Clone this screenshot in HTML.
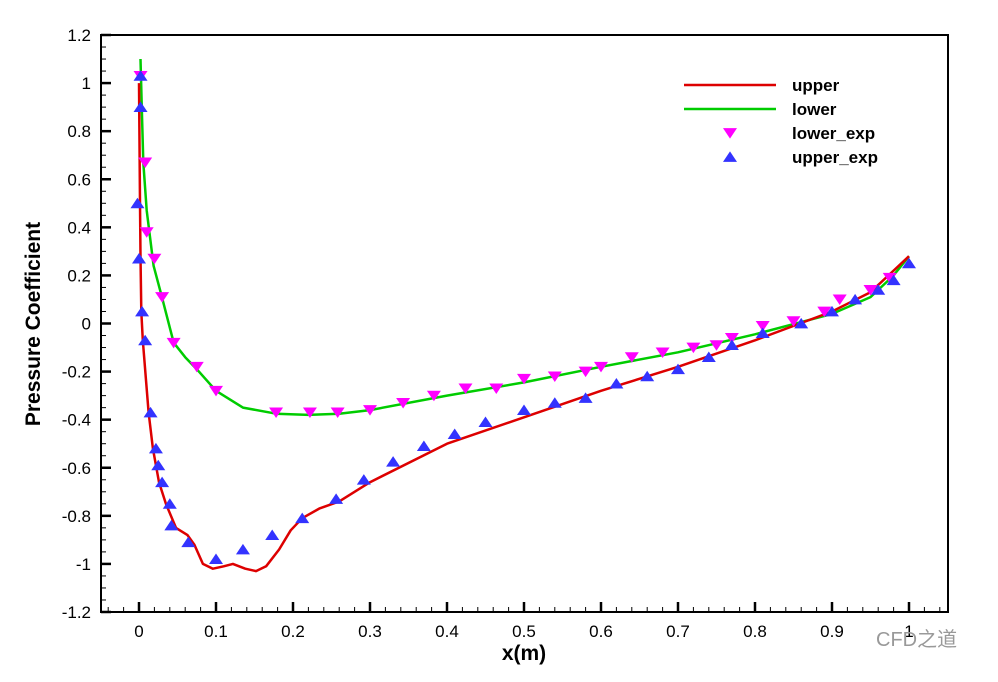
<!DOCTYPE html>
<html><head><meta charset="utf-8"><style>
body{margin:0;background:#fff;}
svg{display:block;font-family:"Liberation Sans",Arial,sans-serif;}
</style></head><body>
<svg id="chart" width="998" height="682"></svg>
<script>
const upperX=[0,0.0013,0.002,0.003,0.005,0.0125,0.018,0.026,0.035,0.048,0.063,0.072,0.083,0.096,0.11,0.122,0.138,0.152,0.165,0.182,0.197,0.212,0.234,0.26,0.3,0.4,0.5,0.6,0.7,0.8,0.9,0.95,1.0];
const upperY=[1.0,0.5,0.28,0.05,-0.07,-0.37,-0.52,-0.66,-0.75,-0.85,-0.88,-0.92,-1.0,-1.02,-1.01,-1.0,-1.02,-1.03,-1.01,-0.94,-0.86,-0.81,-0.77,-0.74,-0.66,-0.5,-0.39,-0.28,-0.18,-0.07,0.05,0.13,0.28];
const lowerX=[0.002,0.004,0.0056,0.01,0.019,0.029,0.045,0.06,0.075,0.1,0.135,0.178,0.22,0.26,0.3,0.4,0.5,0.6,0.7,0.8,0.9,0.95,0.98,1.0];
const lowerY=[1.1,0.85,0.67,0.47,0.24,0.12,-0.08,-0.14,-0.19,-0.28,-0.35,-0.375,-0.38,-0.375,-0.36,-0.3,-0.245,-0.18,-0.12,-0.045,0.04,0.11,0.2,0.28];
const lowerExpX=[0.002,0.008,0.01,0.02,0.03,0.045,0.075,0.1,0.178,0.222,0.258,0.3,0.343,0.383,0.424,0.464,0.5,0.54,0.58,0.6,0.64,0.68,0.72,0.75,0.77,0.81,0.85,0.89,0.91,0.95,0.975];
const lowerExpY=[1.03,0.67,0.38,0.27,0.11,-0.08,-0.18,-0.28,-0.37,-0.37,-0.37,-0.36,-0.33,-0.3,-0.27,-0.27,-0.23,-0.22,-0.2,-0.18,-0.14,-0.12,-0.1,-0.09,-0.06,-0.01,0.01,0.05,0.1,0.14,0.19];
const upperExpX=[0.002,0.002,-0.002,0.0,0.004,0.008,0.015,0.022,0.025,0.03,0.04,0.042,0.064,0.1,0.135,0.173,0.212,0.256,0.292,0.33,0.37,0.41,0.45,0.5,0.54,0.58,0.62,0.66,0.7,0.74,0.77,0.81,0.86,0.9,0.93,0.96,0.98,1.0];
const upperExpY=[1.03,0.9,0.5,0.27,0.05,-0.07,-0.37,-0.52,-0.59,-0.66,-0.75,-0.84,-0.91,-0.98,-0.94,-0.88,-0.81,-0.73,-0.65,-0.575,-0.51,-0.46,-0.41,-0.36,-0.33,-0.31,-0.25,-0.22,-0.19,-0.14,-0.09,-0.04,0.0,0.05,0.1,0.14,0.18,0.25];
const xTicks=["0","0.1","0.2","0.3","0.4","0.5","0.6","0.7","0.8","0.9","1"];
const yTicks=["1.2","1","0.8","0.6","0.4","0.2","0","-0.2","-0.4","-0.6","-0.8","-1","-1.2"];

const L=101,R=948,T=35,B=612;
const sx=v=>139+v*770;
const sy=v=>T+(1.2-v)*(B-T)/2.4;
const svg=document.getElementById('chart');
const NS='http://www.w3.org/2000/svg';
function mk(tag,attrs,parent){const e=document.createElementNS(NS,tag);for(const k in attrs)e.setAttribute(k,attrs[k]);(parent||svg).appendChild(e);return e;}

const frame=mk('rect',{x:L,y:T,width:R-L,height:B-T,fill:'none',stroke:'#000','stroke-width':2});



for(let i=-2;i<=54;i++){const v=i*0.02;const x=sx(v);if(x<L||x>R)continue;const major=i%5===0;
 const t=mk('line',{x1:x,x2:x,y1:B,y2:B-(major?10:5),stroke:'#000','stroke-width':major?2.5:1});
 
 }
xTicks.forEach((s,i)=>{const t=mk('text',{x:sx(i*0.1),y:B+25,'text-anchor':'middle','font-size':17});t.textContent=s;
 
 });
for(let i=-24;i<=24;i++){const v=i*0.05;const y=sy(v);const major=i%4===0;
 const t=mk('line',{x1:L,x2:L+(major?10:5),y1:y,y2:y,stroke:'#000','stroke-width':major?2.5:1});
 
 }
yTicks.forEach((s,i)=>{const t=mk('text',{x:L-10,y:sy(1.2-i*0.2)+6,'text-anchor':'end','font-size':17});t.textContent=s;
 
 });

const xt=mk('text',{x:524,y:660,'text-anchor':'middle','font-size':21,'font-weight':'bold'});xt.textContent='x(m)';


const yt=mk('text',{x:40,y:324,'text-anchor':'middle','font-size':21,'font-weight':'bold',transform:'rotate(-90 40 324)'});yt.textContent='Pressure Coefficient';



function line(xs,ys,color,name){const d=xs.map((x,i)=>(i?'L':'M')+sx(x).toFixed(1)+' '+sy(ys[i]).toFixed(1)).join(' ');
 const p=mk('path',{d:d,fill:'none',stroke:color,'stroke-width':2.5,'stroke-linejoin':'round'});
 
 }
line(lowerX,lowerY,'#00cc00','lower-line');
line(upperX,upperY,'#dd0000','upper-line');
function tri(x,y,down){const s=7;return down?`M${x-s} ${y-s*0.7}L${x+s} ${y-s*0.7}L${x} ${y+s*0.8}Z`:`M${x-s} ${y+s*0.7}L${x+s} ${y+s*0.7}L${x} ${y-s*0.8}Z`;}
lowerExpX.forEach((v,i)=>{const p=mk('path',{d:tri(sx(v),sy(lowerExpY[i]),true),fill:'#ff00ff'});
 
 });
upperExpX.forEach((v,i)=>{const p=mk('path',{d:tri(sx(v),sy(upperExpY[i]),false),fill:'#3333ff'});
 
 });

const lg=mk('g',{});


[['upper','#dd0000','line'],['lower','#00cc00','line'],['lower_exp','#ff00ff','down'],['upper_exp','#3333ff','up']].forEach((e,i)=>{
 const y=85+i*24;
 if(e[2]==='line'){mk('line',{x1:684,x2:776,y1:y,y2:y,stroke:e[1],'stroke-width':2.5},lg);}
 else mk('path',{d:tri(730,y,e[2]==='down'),fill:e[1]},lg);
 const t=mk('text',{x:792,y:y+6,'font-size':17,'font-weight':'bold'},lg);t.textContent=e[0];
 
 });
const wm=mk('text',{x:876,y:646,'font-size':20,fill:'#999'});wm.textContent='CFD之道';


wm.setAttribute('font-family','"Liberation Sans","Noto Sans CJK SC",sans-serif');
</script>
</body></html>
